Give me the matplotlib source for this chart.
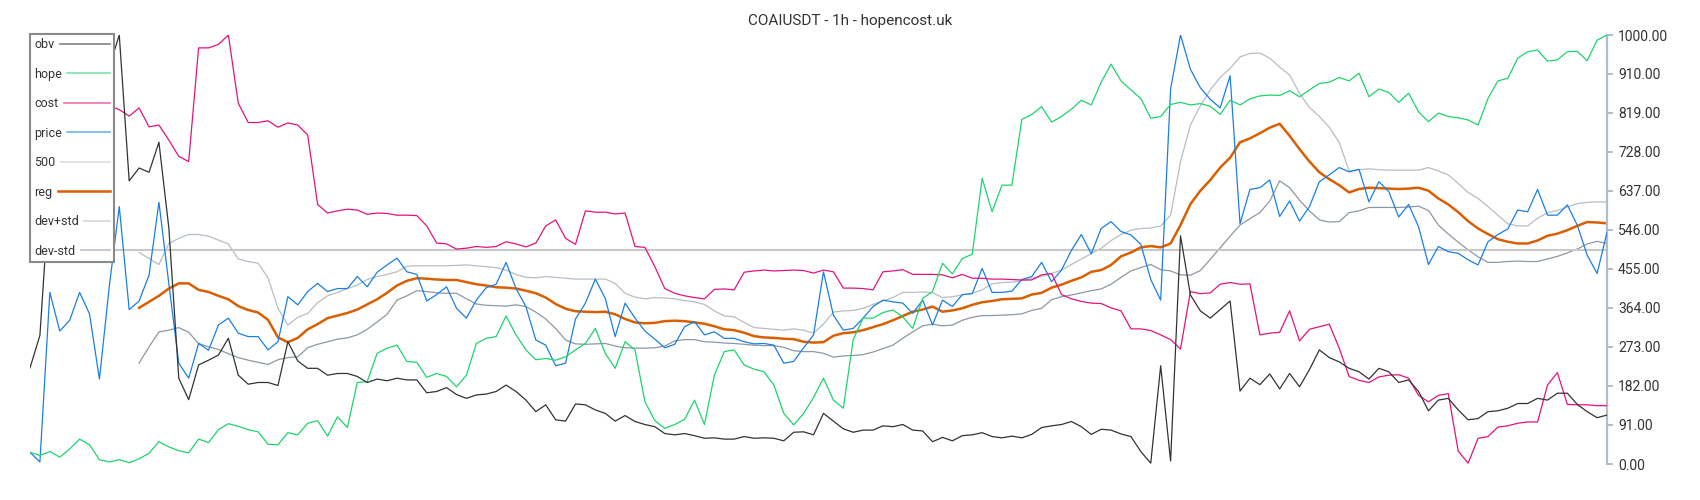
import matplotlib
matplotlib.use("Agg")
import matplotlib.pyplot as plt
from matplotlib.lines import Line2D
import numpy as np

plt.rcParams['font.family'] = ['Roboto', 'DejaVu Sans']

title = "COAIUSDT - 1h - hopencost.uk"
tick_values = [0, 91, 182, 273, 364, 455, 546, 637, 728, 819, 910, 1000]
labels = ["obv", "hope", "cost", "price", "500", "reg", "dev+std", "dev-std"]

# one value per hourly bar
obv = [224, 300, 650, 750, 820, 860, 880, 900, 926, 1000,
       660, 690, 680, 750, 550, 200, 150, 231, 242, 254,
       293, 207, 186, 190, 190, 183, 285, 240, 223, 223,
       207, 211, 211, 204, 190, 198, 194, 200, 196, 196,
       166, 169, 178, 162, 153, 161, 163, 169, 184, 169,
       149, 122, 138, 103, 100, 140, 138, 126, 118, 100,
       113, 99, 92, 87, 71, 68, 71, 66, 60, 61,
       58, 58, 64, 60, 61, 60, 54, 74, 75, 68,
       118, 100, 82, 74, 79, 79, 89, 87, 92, 79,
       77, 52, 62, 54, 66, 68, 73, 64, 61, 65,
       61, 69, 85, 89, 92, 99, 87, 69, 81, 79,
       70, 64, 29, 2, 229, 7, 532, 394, 357, 340,
       360, 380, 170, 200, 185, 210, 175, 211, 180, 220,
       266, 248, 238, 223, 215, 198, 223, 215, 190, 196,
       169, 124, 149, 153, 126, 103, 106, 122, 124, 130,
       141, 141, 153, 149, 165, 165, 139, 122, 108, 114]

hope = [27, 20, 29, 16, 35, 58, 45, 10, 5, 10,
        3, 12, 25, 52, 40, 31, 26, 58, 50, 80,
        94, 88, 80, 75, 46, 45, 73, 68, 95, 101,
        65, 110, 85, 190, 192, 258, 270, 277, 239, 237,
        202, 211, 204, 180, 207, 281, 293, 297, 345, 301,
        266, 243, 246, 242, 250, 266, 281, 316, 258, 223,
        285, 266, 145, 101, 83, 92, 104, 149, 92, 207,
        262, 266, 231, 221, 215, 184, 118, 91, 118, 155,
        200, 149, 130, 290, 340, 340, 353, 359, 343, 316,
        386, 402, 468, 443, 479, 489, 666, 588, 650, 650,
        803, 815, 833, 797, 810, 827, 848, 837, 890, 932,
        893, 872, 852, 806, 810, 838, 843, 837, 840, 834,
        815, 848, 837, 851, 858, 860, 859, 870, 856, 872,
        887, 890, 901, 893, 911, 856, 874, 866, 843, 864,
        821, 798, 818, 810, 807, 802, 790, 852, 893, 899,
        946, 961, 965, 939, 942, 961, 962, 940, 988, 1000]

cost = [880, 875, 870, 865, 860, 850, 845, 840, 835, 826,
        811, 830, 786, 790, 755, 717, 705, 970, 970, 978,
        1000, 841, 796, 796, 800, 785, 795, 790, 767, 605,
        585, 590, 594, 592, 582, 585, 584, 580, 580, 579,
        555, 515, 513, 501, 503, 507, 505, 507, 518, 513,
        506, 515, 555, 569, 526, 512, 590, 587, 587, 583,
        585, 507, 505, 460, 409, 398, 392, 388, 385, 407,
        408, 406, 447, 450, 452, 450, 451, 452, 451, 445,
        452, 448, 410, 410, 409, 406, 448, 450, 453, 442,
        442, 442, 441, 434, 442, 433, 433, 431, 431, 430,
        429, 429, 441, 444, 395, 385, 379, 375, 374, 364,
        357, 315, 315, 311, 301, 290, 268, 402, 397, 399,
        419, 423, 419, 420, 301, 305, 307, 357, 287, 314,
        320, 326, 270, 204, 195, 190, 203, 207, 208, 200,
        160, 145, 160, 164, 30, 2, 60, 64, 86, 89,
        95, 98, 98, 184, 213, 139, 138, 138, 136, 136]

price = [27, 5, 400, 310, 335, 400, 350, 198, 415, 600,
         360, 380, 440, 610, 420, 235, 200, 281, 265, 324,
         340, 305, 297, 297, 266, 285, 390, 371, 402, 421,
         402, 409, 409, 437, 413, 447, 464, 480, 448, 442,
         380, 395, 413, 363, 340, 382, 411, 419, 470, 409,
         367, 289, 277, 229, 235, 338, 375, 431, 386, 297,
         375, 340, 310, 291, 271, 279, 320, 332, 301, 308,
         293, 293, 285, 280, 281, 277, 235, 239, 271, 301,
         448, 347, 312, 316, 340, 367, 382, 378, 375, 351,
         382, 324, 382, 367, 395, 397, 456, 400, 400, 403,
         430, 437, 470, 425, 452, 498, 535, 490, 549, 565,
         542, 534, 512, 430, 382, 874, 1000, 920, 877, 850,
         830, 905, 560, 640, 644, 662, 577, 613, 566, 600,
         658, 674, 691, 681, 687, 611, 658, 635, 576, 605,
         553, 465, 507, 495, 491, 476, 464, 518, 535, 548,
         592, 588, 640, 580, 580, 604, 557, 487, 444, 540]

level = 500

# regression channel only starts after the warm-up bars
reg_start = 11
reg = [364, 378, 392, 409, 421, 421, 406, 401, 392,
       384, 368, 359, 353, 336, 295, 284, 294, 314, 326,
       340, 346, 352, 360, 372, 384, 399, 416, 427, 433,
       432, 430, 429, 429, 424, 419, 416, 412, 411, 409,
       404, 398, 388, 373, 362, 356, 355, 354, 355, 349,
       338, 330, 328, 329, 333, 334, 333, 330, 327, 321,
       314, 312, 306, 298, 295, 294, 292, 291, 285, 283,
       284, 299, 305, 307, 312, 319, 326, 335, 345, 355,
       360, 367, 355, 358, 363, 371, 377, 380, 384, 385,
       386, 395, 399, 411, 418, 427, 435, 448, 452, 464,
       484, 493, 505, 508, 505, 514, 557, 606, 637, 662,
       691, 714, 750, 759, 771, 784, 793, 765, 734, 705,
       680, 664, 650, 633, 641, 644, 643, 642, 641, 642,
       644, 637, 619, 605, 587, 566, 549, 536, 524, 518,
       514, 514, 521, 532, 537, 545, 555, 564, 563, 561]

dev_hi = [493, 479, 465, 514, 526, 535, 535, 531, 522,
          513, 478, 472, 468, 434, 363, 324, 342, 351, 376,
          392, 400, 409, 417, 430, 437, 442, 448, 461, 462,
          462, 462, 462, 463, 464, 462, 460, 458, 452, 442,
          435, 434, 437, 435, 433, 431, 431, 431, 431, 421,
          398, 389, 385, 388, 387, 385, 381, 378, 372, 357,
          345, 343, 330, 318, 316, 314, 312, 315, 312, 305,
          326, 354, 357, 358, 363, 372, 380, 388, 400, 400,
          401, 399, 388, 390, 394, 398, 406, 420, 423, 424,
          427, 433, 437, 444, 452, 465, 478, 490, 503, 521,
          535, 545, 549, 550, 555, 580, 705, 790, 835, 872,
          901, 922, 949, 957, 958, 946, 925, 907, 864, 831,
          810, 785, 750, 683, 686, 688, 686, 685, 685, 685,
          685, 691, 683, 674, 654, 633, 619, 600, 580, 560,
          555, 555, 573, 586, 591, 599, 607, 610, 611, 611]

dev_lo = [235, 273, 308, 312, 318, 307, 281, 273, 267,
          257, 248, 242, 237, 232, 243, 248, 250, 271, 279,
          285, 291, 294, 301, 314, 331, 349, 382, 392, 404,
          402, 399, 398, 398, 385, 373, 370, 369, 368, 371,
          367, 354, 338, 316, 289, 280, 279, 280, 281, 275,
          271, 270, 270, 271, 275, 287, 290, 290, 285, 284,
          282, 281, 279, 277, 276, 276, 272, 264, 262, 262,
          258, 249, 252, 253, 255, 261, 269, 277, 293, 308,
          322, 326, 322, 324, 335, 342, 346, 346, 347, 348,
          350, 358, 363, 383, 390, 394, 399, 404, 408, 419,
          435, 450, 458, 465, 453, 450, 441, 440, 451, 477,
          504, 531, 557, 572, 586, 613, 660, 644, 615, 590,
          569, 564, 565, 586, 590, 598, 598, 598, 598, 599,
          601, 591, 557, 536, 517, 499, 483, 470, 470, 472,
          473, 472, 472, 478, 484, 492, 501, 513, 519, 514]

colors = {
    "obv": "#333333",
    "hope": "#1ed46c",
    "cost": "#e3137e",
    "price": "#1b7fe3",
    "500": "#c8c8c8",
    "reg": "#d95f00",
    "dev+std": "#b6bec5",
    "dev-std": "#8d98a2",
}

n = len(price)
x = np.arange(n)
xr = np.arange(reg_start, reg_start + len(reg))

fig = plt.figure(figsize=(17, 5), dpi=100)
ax = fig.add_axes([30 / 1700, 36 / 500, 1577 / 1700, 429 / 500])

ax.plot(xr, dev_lo, color=colors["dev-std"], lw=0.9, zorder=1)
ax.plot(xr, dev_hi, color=colors["dev+std"], lw=0.9, zorder=1)
ax.plot(x, [level] * n, color=colors["500"], lw=1.5, zorder=1)
ax.plot(xr, reg, color=colors["reg"], lw=1.8, zorder=2)
ax.plot(x, price, color=colors["price"], lw=0.9, zorder=3)
ax.plot(x, cost, color=colors["cost"], lw=0.9, zorder=3)
ax.plot(x, hope, color=colors["hope"], lw=0.9, zorder=3)
ax.plot(x, obv, color=colors["obv"], lw=0.9, zorder=3)

ax.set_xlim(0, n - 1)
ax.set_ylim(0, 1000)
for side in ("top", "left", "bottom"):
    ax.spines[side].set_visible(False)
ax.spines["right"].set_color("#b3bdc5")
ax.spines["right"].set_linewidth(1.6)
ax.set_xticks([])
ax.yaxis.tick_right()
ax.set_yticks(tick_values)
ax.set_yticklabels([f"{v:.2f}" for v in tick_values])
ax.tick_params(axis="y", length=4, width=1.4, color="#b3bdc5",
               labelsize=10, labelcolor="#333333", pad=4)

handles = []
for name in labels:
    if name == "reg":
        handles.append(Line2D([], [], color=colors[name], lw=1.8))
    else:
        handles.append(Line2D([], [], color=colors[name], lw=1.2, alpha=0.6))
leg = ax.legend(handles, labels, loc="upper left", bbox_to_anchor=(0, 1.003),
                borderaxespad=0, markerfirst=False, fancybox=False,
                edgecolor="#8a8a8a", framealpha=1, fontsize=9,
                labelspacing=1.32, handlelength=2.05, handletextpad=0.4,
                borderpad=0.35)
leg.get_frame().set_linewidth(1.5)
for t in leg.get_texts():
    t.set_color("#333333")

# labels flush left, samples stretched so they all end at the same x
renderer = fig.canvas.get_renderer()
widths = [t.get_window_extent(renderer).width * 72 / fig.dpi for t in leg.get_texts()]
for line, w in zip(leg.get_lines(), widths):
    xd = line.get_xdata()
    line.set_xdata(np.linspace(xd[0], xd[-1] + max(widths) - w, len(xd)))
leg._legend_handle_box.get_children()[0].align = "left"

fig.text(0.5, 0.958, title, ha="center", va="center", fontsize=11, color="#333333")

fig.savefig("out.png", dpi=100)
